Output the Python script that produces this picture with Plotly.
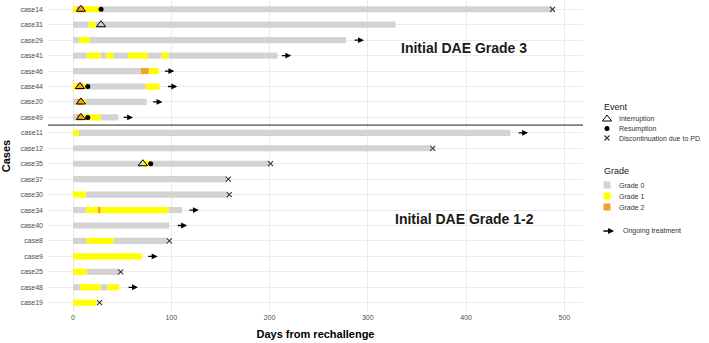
import plotly.graph_objects as go

# ---------------- data ----------------
cases = ["case14", "case31", "case29", "case41", "case46", "case44", "case20", "case49",
         "case11", "case12", "case35", "case37", "case30", "case34", "case40", "case8",
         "case9", "case25", "case48", "case19"]

seg_case = ["case14", "case14", "case14", "case14",
            "case31", "case31", "case31",
            "case29", "case29", "case29",
            "case41", "case41", "case41", "case41", "case41", "case41", "case41", "case41", "case41",
            "case46", "case46", "case46",
            "case44", "case44", "case44", "case44", "case44",
            "case20", "case20", "case20", "case20",
            "case49", "case49", "case49", "case49",
            "case11", "case11",
            "case12",
            "case35", "case35", "case35",
            "case37",
            "case30", "case30",
            "case34", "case34", "case34", "case34", "case34",
            "case40",
            "case8", "case8", "case8",
            "case9",
            "case25", "case25",
            "case48", "case48", "case48", "case48",
            "case19"]
seg_start = [0, 4, 11, 28,
             0, 16, 23,
             0, 6, 17,
             0, 14, 28, 34, 41, 56, 76, 90, 97,
             0, 69, 77,
             0, 4, 10, 14, 74,
             0, 4, 10, 13,
             0, 4, 10, 28,
             0, 6,
             0,
             0, 71, 78,
             0,
             0, 13,
             0, 13, 26, 28, 97,
             0,
             0, 14, 41,
             0,
             0, 14,
             0, 7, 28, 35,
             0]
seg_end = [4, 11, 28, 488,
           16, 23, 328,
           6, 17, 278,
           14, 28, 34, 41, 56, 76, 90, 97, 208,
           69, 77, 87,
           4, 10, 14, 74, 88,
           4, 10, 13, 75,
           4, 10, 28, 46,
           6, 445,
           364,
           71, 78, 200,
           156,
           13, 158,
           13, 26, 28, 97, 111,
           98,
           14, 41, 96,
           70,
           14, 47,
           7, 28, 35, 47,
           24]
seg_grade = [1, 2, 1, 0,
             0, 1, 0,
             0, 1, 0,
             0, 1, 0, 1, 0, 1, 0, 1, 0,
             0, 2, 1,
             1, 2, 1, 0, 1,
             0, 2, 1, 0,
             0, 2, 1, 0,
             1, 0,
             0,
             0, 1, 0,
             0,
             1, 0,
             0, 1, 2, 1, 0,
             0,
             0, 1, 0,
             1,
             1, 0,
             0, 1, 0, 1,
             1]

interrupt_case = ["case14", "case31", "case44", "case20", "case49", "case35"]
interrupt_day = [8, 28.5, 7, 8, 8, 71]

resume_case = ["case14", "case44", "case49", "case35"]
resume_day = [28.5, 15, 15, 79]

pd_case = ["case14", "case12", "case35", "case37", "case30", "case8", "case25", "case19"]
pd_day = [488, 366, 201, 158, 159, 98, 48.5, 27]

ongoing_case = ["case29", "case41", "case46", "case44", "case20", "case49",
                "case11", "case34", "case40", "case9", "case48"]
ongoing_day = [285, 211, 92, 95, 80, 50, 452, 117, 105, 75, 55]

grade_names = ["Grade 0", "Grade 1", "Grade 2"]
grade_colors = ["#D3D3D3", "#FFFF00", "#F2A12E"]
event_names = ["Interruption", "Resumption", "Discontinuation due to PD"]

group_labels = ["Initial DAE Grade 3", "Initial DAE Grade 1-2"]
x_ticks = [0, 100, 200, 300, 400, 500]

# ---------------- style ----------------
FONT = "Liberation Sans, Arial, sans-serif"
TICK_FONT = dict(family=FONT, size=7, color="#4D4D4D")
LEG_FONT = dict(family=FONT, size=7, color="#333333")
TRI = dict(symbol="triangle-up-open", size=8, color="black", line=dict(width=1, color="black"))
DOT = dict(symbol="circle", size=5, color="black")
XM = dict(symbol="x-thin-open", size=5, color="#333333", line=dict(width=1.1, color="#333333"))

W, H = 709, 343
ML, MB = 48, 31
PLOT_RIGHT = 583
dom_end = (PLOT_RIGHT - ML) / (W - ML)

fig = go.Figure()

for g in range(3):
    idx = [i for i, v in enumerate(seg_grade) if v == g]
    fig.add_trace(go.Bar(
        orientation="h",
        y=[seg_case[i] for i in idx],
        base=[seg_start[i] for i in idx],
        x=[seg_end[i] - seg_start[i] for i in idx],
        marker=dict(color=grade_colors[g], line=dict(width=0)),
        width=0.4, name=grade_names[g], hoverinfo="skip",
    ))

fig.add_trace(go.Scatter(x=interrupt_day, y=interrupt_case, mode="markers",
                         name=event_names[0], marker=TRI))
fig.add_trace(go.Scatter(x=resume_day, y=resume_case, mode="markers",
                         name=event_names[1], marker=DOT))
fig.add_trace(go.Scatter(x=pd_day, y=pd_case, mode="markers",
                         name=event_names[2], marker=XM))

# ongoing treatment arrows
ARROW_LEN = 11
for c, d in zip(ongoing_case, ongoing_day):
    fig.add_annotation(
        x=d + ARROW_LEN, y=c, ax=d, ay=c, xref="x", yref="y", axref="x", ayref="y",
        text="", showarrow=True, arrowhead=2, arrowsize=0.9, arrowwidth=1.3,
        arrowcolor="black",
    )

# separator between groups
sep = cases.index("case11") - 0.5
fig.add_shape(type="line", xref="x domain", x0=0, x1=1, yref="y", y0=sep, y1=sep,
              line=dict(color="#7F7F7F", width=1.6), layer="above")

# group labels
fig.add_annotation(x=398, y=2.5, xref="x", yref="y", text="<b>" + group_labels[0] + "</b>",
                   showarrow=False, font=dict(family=FONT, size=14, color="#1a1a1a"))
fig.add_annotation(x=398, y=13.6, xref="x", yref="y", text="<b>" + group_labels[1] + "</b>",
                   showarrow=False, font=dict(family=FONT, size=14, color="#1a1a1a"))

# ---------------- legend (drawn on a helper axis in pixel units) ----------------
LX_SYM, LX_TXT, LX_TITLE = 607, 617, 602
ev_y = [119, 128.5, 138]
gr_y = [185, 196, 207]
fig.add_annotation(x=LX_TITLE, y=107, xref="x2", yref="y2", text="Event", showarrow=False,
                   xanchor="left", font=dict(family=FONT, size=9, color="#1a1a1a"))
fig.add_annotation(x=LX_TITLE, y=171, xref="x2", yref="y2", text="Grade", showarrow=False,
                   xanchor="left", font=dict(family=FONT, size=9, color="#1a1a1a"))
for m, yy in zip([TRI, DOT, XM], ev_y):
    fig.add_trace(go.Scatter(x=[LX_SYM], y=[yy], xaxis="x2", yaxis="y2", mode="markers",
                             marker=m, hoverinfo="skip"))
for name, yy in zip(event_names, ev_y):
    fig.add_annotation(x=LX_TXT, y=yy, xref="x2", yref="y2", text=name, showarrow=False,
                       xanchor="left", font=LEG_FONT)
fig.add_trace(go.Scatter(x=[LX_SYM] * 3, y=gr_y, xaxis="x2", yaxis="y2", mode="markers",
                         marker=dict(symbol="square", size=7, color=grade_colors),
                         hoverinfo="skip"))
for name, yy in zip(grade_names, gr_y):
    fig.add_annotation(x=LX_TXT, y=yy, xref="x2", yref="y2", text=name, showarrow=False,
                       xanchor="left", font=LEG_FONT)
fig.add_annotation(x=614, y=231, ax=602, ay=231, xref="x2", yref="y2", axref="x2", ayref="y2",
                   text="", showarrow=True, arrowhead=2, arrowsize=0.9, arrowwidth=1.3,
                   arrowcolor="black")
fig.add_annotation(x=621, y=231, xref="x2", yref="y2", text="Ongoing treatment",
                   showarrow=False, xanchor="left", font=LEG_FONT)

fig.update_layout(
    width=W, height=H,
    margin=dict(l=ML, r=0, t=0, b=MB, autoexpand=False),
    paper_bgcolor="white", plot_bgcolor="white",
    barmode="overlay", showlegend=False,
    font=dict(family=FONT, size=7, color="#4D4D4D"),
    xaxis=dict(
        domain=[0, dom_end],
        range=[-25.5, 519], tickvals=x_ticks, showgrid=True, gridcolor="#EBEBEB",
        gridwidth=1, zeroline=False, showline=False, ticks="", tickfont=TICK_FONT,
        title=dict(text="<b>Days from rechallenge</b>",
                   font=dict(family=FONT, size=11, color="black"), standoff=10),
    ),
    yaxis=dict(
        type="category", categoryorder="array", categoryarray=cases,
        range=[len(cases) - 0.4, -0.6], showgrid=True, gridcolor="#EBEBEB", gridwidth=1,
        zeroline=False, showline=False, ticks="", tickfont=TICK_FONT, ticklabelstandoff=4,
        title=dict(text="<b>Cases</b>", font=dict(family=FONT, size=11, color="black"),
                   standoff=8),
    ),
    xaxis2=dict(domain=[dom_end, 1], range=[PLOT_RIGHT, W], visible=False, fixedrange=True),
    yaxis2=dict(domain=[0, 1], range=[H - MB, 0], visible=False, anchor="x2", fixedrange=True),
)

fig.write_html("out.html")
